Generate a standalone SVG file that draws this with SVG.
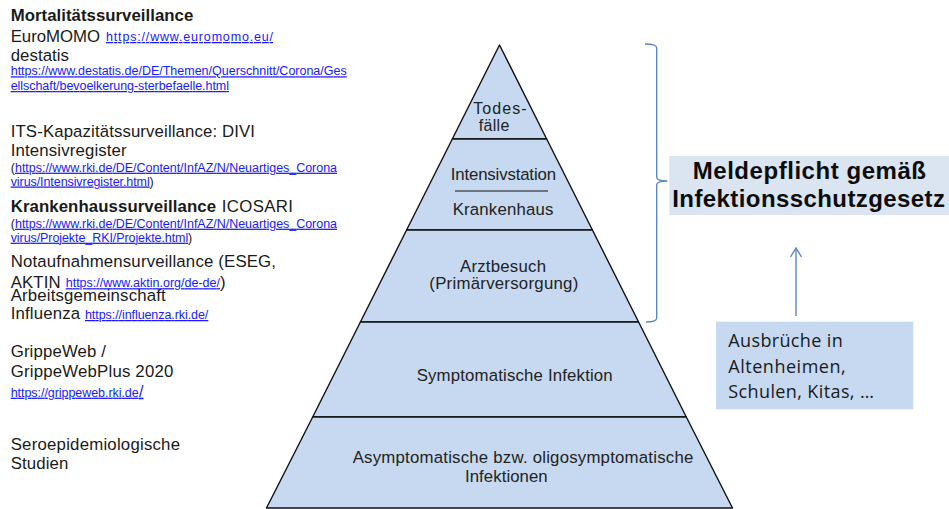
<svg xmlns="http://www.w3.org/2000/svg" width="949" height="509" viewBox="0 0 949 509">
<style>
.t{font-family:"Liberation Sans",Arial,sans-serif;font-size:16.8px;fill:#1a1a1a}
.b{font-weight:bold}
.lk{font-family:"Liberation Sans",Arial,sans-serif;font-size:12.5px;fill:#1a1aff;text-decoration:underline}
.pt{font-family:"Liberation Sans",Arial,sans-serif;font-size:16.8px;fill:#222}
.lay{fill:#c6d9f0;stroke:#111;stroke-width:1.4;stroke-linejoin:round}
.br{fill:none;stroke:#5b87c2;stroke-width:1.4}
.title{font-family:"Liberation Sans",Arial,sans-serif;font-size:24px;font-weight:bold;fill:#0d0d0d}
.cal{font-family:"Open Sans","Noto Sans",sans-serif;font-size:18px;fill:#1a1a1a}
</style>
<defs>
<marker id="open" markerWidth="12" markerHeight="12" refX="11" refY="6" orient="auto" markerUnits="userSpaceOnUse" viewBox="0 0 12 12">
<path d="M2,0.5 L11,6 L2,11.5" fill="none" stroke="#5b87c2" stroke-width="1.4"/>
</marker>
</defs>
<g id="left-texts">
<g id="mortalitaet">
<text class="t b" x="10.7" y="21" textLength="182.6" lengthAdjust="spacing">Mortalitätssurveillance</text>
<text class="t" x="10.7" y="41.5" textLength="89.3" lengthAdjust="spacing">EuroMOMO</text>
<text class="lk" x="106" y="41" textLength="167" lengthAdjust="spacing">https://www.euromomo.eu/</text>
<text class="t" x="10.7" y="60.7" textLength="58.3" lengthAdjust="spacing">destatis</text>
<text class="lk" x="10.7" y="75.3" textLength="336" lengthAdjust="spacing">https://www.destatis.de/DE/Themen/Querschnitt/Corona/Ges</text>
<text class="lk" x="10.7" y="90" textLength="218.3" lengthAdjust="spacing">ellschaft/bevoelkerung-sterbefaelle.html</text>
</g>
<g id="its">
<text class="t" x="10.7" y="136.7" textLength="244.3" lengthAdjust="spacing">ITS-Kapazitätssurveillance: DIVI</text>
<text class="t" x="10.7" y="156" textLength="116" lengthAdjust="spacing">Intensivregister</text>
<text class="t" x="10.7" y="171.7" style="font-size:12.5px">(</text>
<text class="lk" x="15" y="171.7" textLength="322" lengthAdjust="spacing">https://www.rki.de/DE/Content/InfAZ/N/Neuartiges_Corona</text>
<text class="lk" x="10.7" y="185.5" textLength="139" lengthAdjust="spacing">virus/Intensivregister.html</text>
<text class="t" x="149.5" y="185.5" style="font-size:12.5px">)</text>
</g>
<g id="krankenhaus-surv">
<text class="t b" x="10.7" y="211.7" textLength="205.3" lengthAdjust="spacing">Krankenhaussurveillance</text>
<text class="t" x="221.7" y="211.7" textLength="71.3" lengthAdjust="spacing">ICOSARI</text>
<text class="t" x="10.7" y="227.7" style="font-size:12.5px">(</text>
<text class="lk" x="15" y="227.7" textLength="322" lengthAdjust="spacing">https://www.rki.de/DE/Content/InfAZ/N/Neuartiges_Corona</text>
<text class="lk" x="10.7" y="241.7" textLength="177.5" lengthAdjust="spacing">virus/Projekte_RKI/Projekte.html</text>
<text class="t" x="188" y="241.7" style="font-size:12.5px">)</text>
</g>
<g id="notaufnahme">
<text class="t" x="10.7" y="267.3" textLength="265.3" lengthAdjust="spacing">Notaufnahmensurveillance (ESEG,</text>
<text class="t" x="10.7" y="287.7" textLength="50" lengthAdjust="spacing">AKTIN</text>
<text class="lk" x="65.7" y="287.2" textLength="154.3" lengthAdjust="spacing">https://www.aktin.org/de-de/</text>
<text class="t" x="220" y="287.7">)</text>
</g>
<g id="ag-influenza">
<text class="t" x="10.7" y="301" textLength="155" lengthAdjust="spacing">Arbeitsgemeinschaft</text>
<text class="t" x="10.7" y="319.3" textLength="69.3" lengthAdjust="spacing">Influenza</text>
<text class="lk" x="85" y="319" textLength="123.3" lengthAdjust="spacing">https://influenza.rki.de/</text>
</g>
<g id="grippeweb">
<text class="t" x="10.7" y="357.3" textLength="95.3" lengthAdjust="spacing">GrippeWeb /</text>
<text class="t" x="10.7" y="376.7" textLength="162.6" lengthAdjust="spacing">GrippeWebPlus 2020</text>
<text class="lk" x="10.7" y="396.7" textLength="128" lengthAdjust="spacing">https://grippeweb.rki.de</text>
<text class="lk" x="139" y="396.7" style="font-size:16px">/</text>
</g>
<g id="seroepi">
<text class="t" x="10.7" y="450" textLength="169.3" lengthAdjust="spacing">Seroepidemiologische</text>
<text class="t" x="10.7" y="469.3" textLength="57.6" lengthAdjust="spacing">Studien</text>
</g>
</g>
<g id="pyramid">
<g id="level-todesfaelle">
<polygon class="lay" points="499.5,45 546.7,139 452.3,139"/>
<text class="pt" x="473.3" y="114" textLength="53.4" lengthAdjust="spacing" style="font-size:16px">Todes-</text>
<text class="pt" x="478.7" y="131" textLength="30.6" lengthAdjust="spacing" style="font-size:16px">fälle</text>
</g>
<g id="level-krankenhaus">
<polygon class="lay" points="452.3,139 546.7,139 592.4,230 406.6,230"/>
<text class="pt" x="450.7" y="180" textLength="105.3" lengthAdjust="spacing">Intensivstation</text>
<line x1="455" y1="191" x2="548" y2="191" stroke="#111" stroke-width="1"/>
<text class="pt" x="452.7" y="215" textLength="100.6" lengthAdjust="spacing">Krankenhaus</text>
</g>
<g id="level-arztbesuch">
<polygon class="lay" points="406.6,230 592.4,230 638.6,322 360.4,322"/>
<text class="pt" x="460" y="271.7" textLength="86" lengthAdjust="spacing">Arztbesuch</text>
<text class="pt" x="429.3" y="289.3" textLength="149" lengthAdjust="spacing">(Primärversorgung)</text>
</g>
<g id="level-symptomatisch">
<polygon class="lay" points="360.4,322 638.6,322 686.3,417 312.7,417"/>
<text class="pt" x="416.7" y="380.7" textLength="196" lengthAdjust="spacing">Symptomatische Infektion</text>
</g>
<g id="level-asymptomatisch">
<polygon class="lay" points="312.7,417 686.3,417 732.5,508 266.5,508"/>
<text class="pt" x="352.7" y="463.3" textLength="340.6" lengthAdjust="spacing">Asymptomatische bzw. oligosymptomatische</text>
<text class="pt" x="465" y="481.7" textLength="82.7" lengthAdjust="spacing">Infektionen</text>
</g>
</g>
<g id="meldepflicht">
<rect x="669.3" y="156" width="279.7" height="59" fill="#dbe5f1"/>
<text class="title" x="692.7" y="179.3" textLength="233.3" lengthAdjust="spacing">Meldepflicht gemäß</text>
<text class="title" x="672.3" y="207.3" textLength="272.7" lengthAdjust="spacing">Infektionsschutzgesetz</text>
</g>
<g id="ausbrueche">
<rect x="716" y="321.7" width="197.3" height="87.6" fill="#c6d9f0"/>
<text class="cal" x="728.3" y="346.7" textLength="114.4" lengthAdjust="spacing">Ausbrüche in</text>
<text class="cal" x="728.3" y="373" textLength="117.4" lengthAdjust="spacing">Altenheimen,</text>
<text class="cal" x="728.3" y="398" textLength="145.7" lengthAdjust="spacing">Schulen, Kitas, …</text>
</g>
<g id="connectors">
<path class="br" d="M645,44 Q656.7,44 656.7,48 L656.7,177 Q656.7,181 667.3,181 Q656.7,181 656.7,185 L656.7,318 Q656.7,322 646,322"/>
<line x1="796" y1="316" x2="796" y2="248" stroke="#5b87c2" stroke-width="1.4" marker-end="url(#open)"/>
</g>
</svg>
